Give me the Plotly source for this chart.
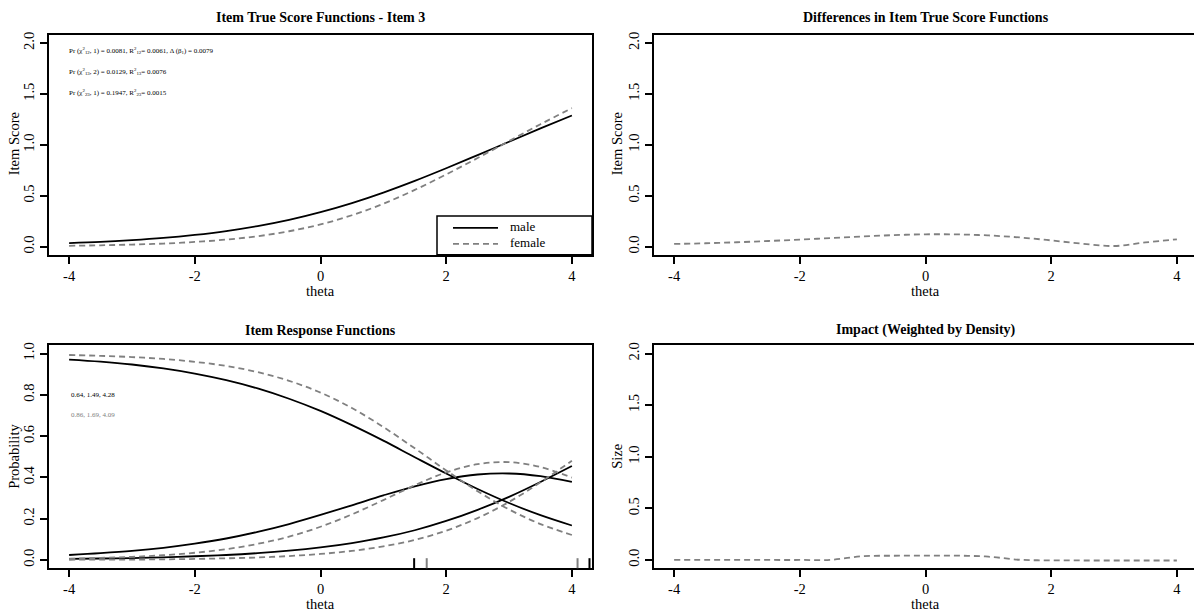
import plotly.graph_objects as go

# ---------------- data ----------------
theta = [-4.0, -3.5, -3.0, -2.5, -2.0, -1.5, -1.0, -0.5, 0.0, 0.5,
         1.0, 1.5, 2.0, 2.5, 3.0, 3.5, 4.0]

male_score = [0.034, 0.046, 0.063, 0.085, 0.115, 0.153, 0.202, 0.263, 0.339,
              0.428, 0.531, 0.646, 0.770, 0.899, 1.030, 1.161, 1.288]
female_score = [0.008, 0.013, 0.020, 0.030, 0.046, 0.069, 0.102, 0.151, 0.218,
                0.308, 0.421, 0.557, 0.709, 0.870, 1.037, 1.202, 1.360]

score_diff = [0.026, 0.033, 0.043, 0.055, 0.069, 0.084, 0.100, 0.113, 0.121,
              0.120, 0.110, 0.090, 0.061, 0.028, 0.006, 0.041, 0.072]

impact = [0.0, 0.0, 0.0, 0.0, 0.0, 0.002, 0.036, 0.041, 0.042, 0.042,
          0.032, 0.002, -0.004, -0.005, -0.005, -0.005, -0.005]

male_p0 = [0.971, 0.961, 0.947, 0.928, 0.903, 0.871, 0.831, 0.781, 0.722,
           0.653, 0.578, 0.498, 0.419, 0.344, 0.276, 0.217, 0.167]
male_p1 = [0.024, 0.033, 0.044, 0.059, 0.079, 0.104, 0.136, 0.174, 0.218,
           0.265, 0.313, 0.357, 0.392, 0.414, 0.419, 0.406, 0.378]
male_p2 = [0.005, 0.007, 0.009, 0.013, 0.018, 0.024, 0.033, 0.045, 0.061,
           0.082, 0.109, 0.144, 0.189, 0.243, 0.306, 0.378, 0.455]

female_p0 = [0.993, 0.989, 0.983, 0.974, 0.960, 0.940, 0.910, 0.868, 0.811,
             0.736, 0.644, 0.541, 0.434, 0.333, 0.245, 0.174, 0.121]
female_p1 = [0.006, 0.010, 0.015, 0.023, 0.035, 0.052, 0.078, 0.113, 0.161,
             0.221, 0.290, 0.362, 0.424, 0.464, 0.474, 0.450, 0.399]
female_p2 = [0.001, 0.002, 0.002, 0.003, 0.005, 0.008, 0.012, 0.019, 0.029,
             0.044, 0.066, 0.097, 0.142, 0.203, 0.281, 0.376, 0.481]

male_thresholds = [1.49, 4.28]
female_thresholds = [1.69, 4.09]

male_params_text = "0.64, 1.49, 4.28"
female_params_text = "0.86, 1.69, 4.09"

stats_lines = [
    "Pr (χ<sup>2</sup><sub>12</sub>, 1) = 0.0081, R<sup>2</sup><sub>12</sub>= 0.0061, Δ (β<sub>1</sub>) = 0.0079",
    "Pr (χ<sup>2</sup><sub>13</sub>, 2) = 0.0129, R<sup>2</sup><sub>13</sub>= 0.0076",
    "Pr (χ<sup>2</sup><sub>23</sub>, 1) = 0.1947, R<sup>2</sup><sub>23</sub>= 0.0015",
]

legend_labels = ["male", "female"]

x_ticks = [-4, -2, 0, 2, 4]
score_ticks = [0.0, 0.5, 1.0, 1.5, 2.0]
prob_ticks = [0.0, 0.2, 0.4, 0.6, 0.8, 1.0]

panel_titles = ["Item True Score Functions - Item 3",
                "Differences in Item True Score Functions",
                "Item Response Functions",
                "Impact (Weighted by Density)"]

# ---------------- styling / layout ----------------
W, H = 1194, 613
FONT = "Liberation Serif"
BLACK = "#000000"
GREY = "#808080"
LW = 1.8
DASH = "6px,4px"


def px_x(p):
    return p / W


def px_y(p):
    return 1 - p / H


left_dom = [px_x(49), px_x(592)]
right_dom = [px_x(654), 1.0]
top_dom = [px_y(253), px_y(32)]
bot_dom = [px_y(568), px_y(344)]

unit = (592 - 49) / 8.64
right_range = [-4.32, -4.32 + (W - 654) / unit]

fig = go.Figure()


def line(x, y, color, dash, xa, ya, name=None):
    fig.add_trace(go.Scatter(
        x=x, y=y, mode="lines", name=name, showlegend=False,
        line=dict(color=color, width=LW, dash=dash, shape="spline", smoothing=1.0),
        xaxis=xa, yaxis=ya, hoverinfo="skip"))


# panel 1: item true score functions
line(theta, male_score, BLACK, "solid", "x", "y", legend_labels[0])
line(theta, female_score, GREY, DASH, "x", "y", legend_labels[1])
# panel 2: differences
line(theta, score_diff, GREY, DASH, "x2", "y2")
# panel 3: item response functions
for ys in (male_p0, male_p1, male_p2):
    line(theta, ys, BLACK, "solid", "x3", "y3")
for ys in (female_p0, female_p1, female_p2):
    line(theta, ys, GREY, DASH, "x3", "y3")
# panel 4: impact
line(theta, impact, GREY, DASH, "x4", "y4")

# rug ticks for thresholds
shapes = []
for t in male_thresholds:
    shapes.append(dict(type="line", xref="x3", yref="y3 domain", x0=t, x1=t,
                       y0=0, y1=0.045, line=dict(color=BLACK, width=2)))
for t in female_thresholds:
    shapes.append(dict(type="line", xref="x3", yref="y3 domain", x0=t, x1=t,
                       y0=0, y1=0.045, line=dict(color=GREY, width=2)))

# legend box (drawn like R's legend())
shapes.append(dict(type="rect", xref="paper", yref="paper",
                   x0=px_x(437), x1=px_x(592), y0=px_y(253), y1=px_y(214),
                   line=dict(color=BLACK, width=1.5), fillcolor="white", layer="above"))
shapes.append(dict(type="line", xref="paper", yref="paper",
                   x0=px_x(453), x1=px_x(498), y0=px_y(226), y1=px_y(226),
                   line=dict(color=BLACK, width=LW), layer="above"))
shapes.append(dict(type="line", xref="paper", yref="paper",
                   x0=px_x(453), x1=px_x(498), y0=px_y(242), y1=px_y(242),
                   line=dict(color=GREY, width=LW, dash=DASH), layer="above"))

tick_font = dict(family=FONT, size=14.5, color=BLACK)


def xaxis(dom, rng, anchor):
    return dict(domain=dom, range=rng, anchor=anchor, tickmode="array",
                tickvals=x_ticks, ticktext=[str(v) for v in x_ticks],
                showline=True, mirror=True, linecolor=BLACK, linewidth=1.5,
                ticks="outside", ticklen=7, tickwidth=1.5, tickcolor=BLACK,
                showgrid=False, zeroline=False, tickfont=tick_font)


def yaxis(dom, rng, anchor, tickvals, mirror=True):
    return dict(domain=dom, range=rng, anchor=anchor, tickmode="array",
                tickvals=tickvals, ticktext=[f"{v:.1f}" for v in tickvals],
                showline=True, mirror=mirror, linecolor=BLACK, linewidth=1.5,
                ticks="outside", ticklen=7, tickwidth=1.5, tickcolor=BLACK,
                tickangle=-90, showgrid=False, zeroline=False, tickfont=tick_font)


annotations = []


def text(x, y, s, size=14.5, bold=False, color=BLACK, xanchor="center",
         angle=0, xref="paper", yref="paper"):
    if bold:
        s = f"<b>{s}</b>"
    annotations.append(dict(x=x, y=y, xref=xref, yref=yref, text=s, showarrow=False,
                            xanchor=xanchor, yanchor="middle", textangle=angle,
                            font=dict(family=FONT, size=size, color=color)))


# panel titles
text(px_x((49 + 592) / 2), px_y(15), panel_titles[0], 14, True)
text(px_x((654 + 1197) / 2), px_y(15), panel_titles[1], 14, True)
text(px_x((49 + 592) / 2), px_y(329), panel_titles[2], 14, True)
text(px_x((654 + 1197) / 2), px_y(329), panel_titles[3], 14, True)

# axis titles
for cx in (px_x(320), px_x(925)):
    text(cx, px_y(289), "theta")
    text(cx, px_y(604), "theta")
text(px_x(14), px_y(142), "Item Score", angle=-90)
text(px_x(617), px_y(142), "Item Score", angle=-90)
text(px_x(14), px_y(456), "Probability", angle=-90)
text(px_x(617), px_y(456), "Size", angle=-90)

# legend labels
text(px_x(508), px_y(225), legend_labels[0], 13, xanchor="left")
text(px_x(508), px_y(241), legend_labels[1], 13, xanchor="left")

# statistics text
for i, s in enumerate(stats_lines):
    text(px_x(67), px_y(48 + 21 * i), s, size=7, xanchor="left")

# IRF parameter text
text(-4.0, 0.8, male_params_text, size=7, xanchor="left", xref="x3", yref="y3")
text(-4.0, 0.7, female_params_text, size=7, color=GREY, xanchor="left", xref="x3", yref="y3")

fig.update_layout(
    width=W, height=H,
    margin=dict(l=0, r=0, t=0, b=0),
    paper_bgcolor="white", plot_bgcolor="white",
    font=dict(family=FONT, size=13, color=BLACK),
    xaxis=xaxis(left_dom, [-4.32, 4.32], "y"),
    yaxis=yaxis(top_dom, [-0.08, 2.08], "x", score_ticks),
    xaxis2=xaxis(right_dom, right_range, "y2"),
    yaxis2=yaxis(top_dom, [-0.08, 2.08], "x2", score_ticks, mirror=False),
    xaxis3=xaxis(left_dom, [-4.32, 4.32], "y3"),
    yaxis3=yaxis(bot_dom, [-0.04, 1.04], "x3", prob_ticks),
    xaxis4=xaxis(right_dom, right_range, "y4"),
    yaxis4=yaxis(bot_dom, [-0.08, 2.08], "x4", score_ticks, mirror=False),
    shapes=shapes,
    annotations=annotations,
    showlegend=False,
)

fig.write_html("out.html")
